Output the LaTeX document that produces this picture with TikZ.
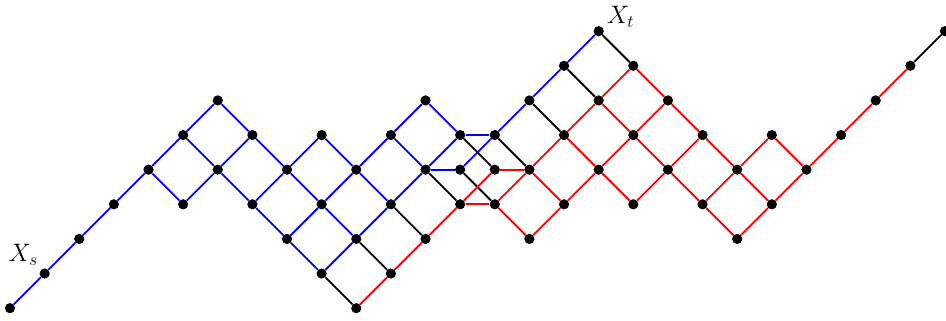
\documentclass[tikz,border=0pt]{standalone}
\begin{document}
\begin{tikzpicture}[x=1cm,y=1cm,
  dot/.style={circle,fill=black,inner sep=0pt,minimum size=8.4pt},
  bl/.style={draw=blue,line width=1.5pt},
  rd/.style={draw=red,line width=1.5pt},
  bk/.style={draw=black,line width=1.5pt},
  lab/.style={inner sep=0pt,font=\huge}]
\useasboundingbox (-0.289,-0.347) rectangle (27.03,8.90);
\foreach \i/\j in {0/0,1/1,2/2,3/3,4/4,5/5,6/6,5/3,6/4,7/5,7/3,8/4,9/5,8/2,9/3,10/4,11/5,12/6,9/1,10/2,11/3,12/4,13/5,10/0,11/1,12/2,13/3,13/4,14/5,14/4,14/3,15/6,15/4,15/2,16/7,16/5,16/3,17/8,17/6,17/4,18/7,18/5,18/3,19/6,19/4,20/5,20/3,21/4,21/2,22/5,22/3,23/4,24/5,25/6,26/7,27/8}
  \node[dot] (p\i-\j) at (\i,\j) {};
\foreach \a/\b in {0-0/1-1,1-1/2-2,2-2/3-3,3-3/4-4,4-4/5-5,5-5/6-6,
  5-3/6-4,6-4/7-5,7-3/8-4,8-4/9-5,8-2/9-3,9-3/10-4,10-4/11-5,11-5/12-6,
  9-1/10-2,10-2/11-3,11-3/12-4,12-4/13-5,13-4/14-5,14-5/15-6,15-6/16-7,16-7/17-8,
  4-4/5-3,5-5/6-4,6-4/7-3,6-6/7-5,7-5/8-4,8-4/9-3,9-3/10-2,7-3/8-2,8-2/9-1,
  9-5/10-4,10-4/11-3,11-5/12-4,12-6/13-5,12-4/13-4,13-5/14-5}
  \draw[bl] (p\a) -- (p\b);
\foreach \a/\b in {9-1/10-0,10-2/11-1,11-3/12-2,12-4/13-3,13-4/14-3,13-5/14-4,
  14-5/15-4,15-6/16-5,16-7/17-6,17-8/18-7,26-7/27-8}
  \draw[bk] (p\a) -- (p\b);
\foreach \a/\b in {10-0/11-1,11-1/12-2,12-2/13-3,13-3/14-4,14-3/15-4,15-4/16-5,
  16-5/17-6,17-6/18-7,15-2/16-3,16-3/17-4,17-4/18-5,18-5/19-6,18-3/19-4,19-4/20-5,
  20-3/21-4,21-4/22-5,21-2/22-3,22-3/23-4,23-4/24-5,24-5/25-6,25-6/26-7,
  14-3/15-2,15-4/16-3,16-5/17-4,17-4/18-3,17-6/18-5,18-5/19-4,18-7/19-6,19-6/20-5,
  19-4/20-3,20-5/21-4,20-3/21-2,21-4/22-3,22-5/23-4,14-4/15-4,13-3/14-3}
  \draw[rd] (p\a) -- (p\b);
\node[lab] (xs) at (0.38,1.53) {$X_s$};
\node[lab] (xt) at (17.63,8.41) {$X_t$};
\end{tikzpicture}
\end{document}
